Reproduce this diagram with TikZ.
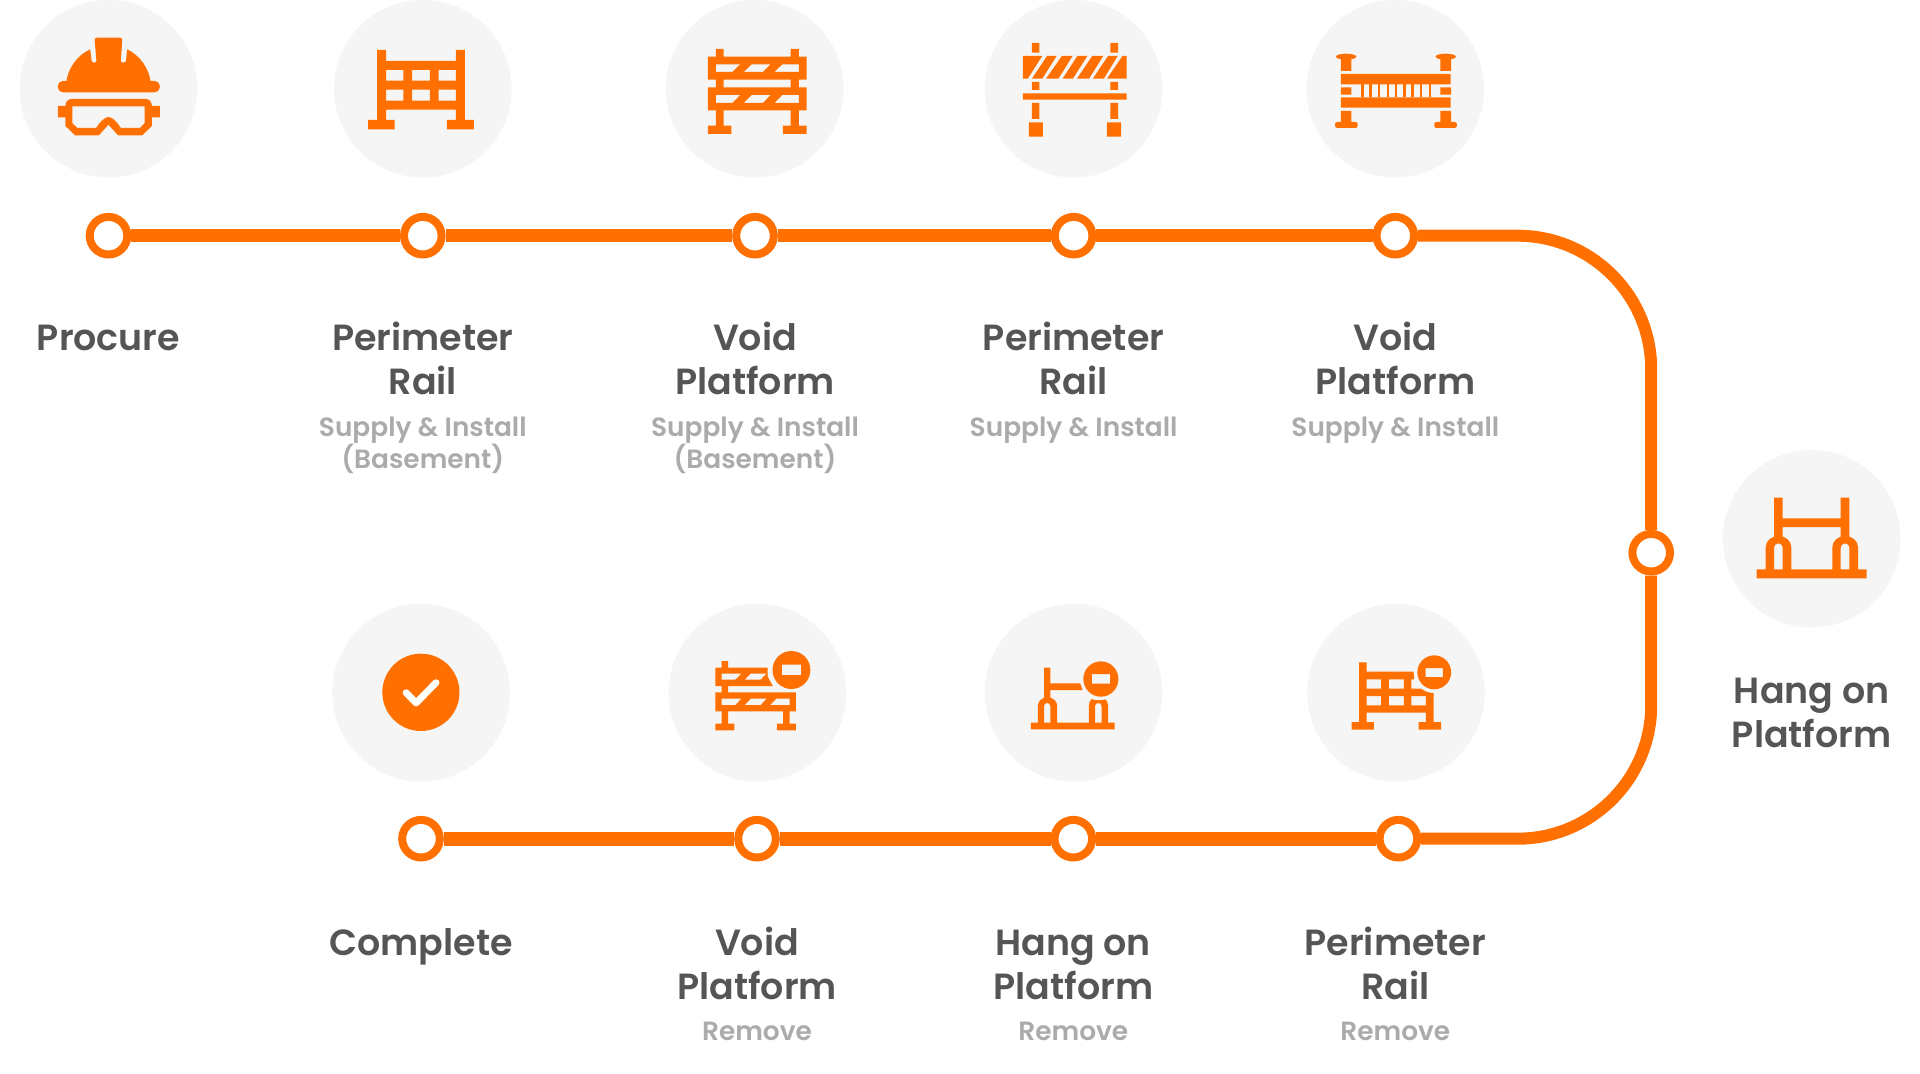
\documentclass[tikz,border=0pt]{standalone}
\usepackage{fontspec}
\usetikzlibrary{calc}
\setmainfont{Poppins}
\newfontfamily\ptitle{Poppins SemiBold}
\newfontfamily\psub{Poppins SemiBold}
\definecolor{org}{HTML}{FF7000}
\definecolor{disc}{HTML}{F5F5F5}
\definecolor{ink}{HTML}{555555}
\definecolor{soft}{HTML}{ABABAB}
\lineskiplimit=-20pt
\newcommand{\firstT}{\rule{0pt}{16pt}}
\newcommand{\firstS}{\rule{0pt}{12pt}}
\newcommand{\link}[2]{\path[track,line width=6.8pt] (#1) -- (#2);}
\tikzset{
  disc/.style={circle,fill=disc,minimum size=88.8pt,inner sep=0pt},
  stop/.style={circle,draw=org,fill=white,line width=4pt,minimum size=18.8pt,inner sep=0pt},
  track/.style={draw=org,line width=6pt},
  ttl/.style={anchor=north,inner sep=0pt,align=center,text=ink,yshift=16pt,font=\ptitle\fontsize{18.2}{22}\selectfont},
  subt/.style={anchor=north,inner sep=0pt,align=center,text=soft,yshift=12pt,font=\psub\fontsize{13.2}{15.6}\selectfont},
  zv/.style n args={3}{xshift=#1*0.5pt,yshift=-#2*0.5pt,x=#3,y=-0.166667pt},
  ic/.style={fill=org,even odd rule},
}
\begin{document}
\begin{tikzpicture}[x=0.5pt,y=-0.5pt]
\useasboundingbox (0,0) rectangle (1920,1074);
\fill[white] (0,0) rectangle (1920,1074);
% discs
\foreach \n/\x/\y in {i1/108.5/88.7,i2/422.8/88.7,i3/754.7/88.7,i4/1073.6/88.7,i5/1395.3/88.7,i6/1811.7/538.7,i7/421.2/692.7,i8/757.4/692.7,i9/1073.5/692.7,i10/1396/692.7}
  \node[disc] (\n) at (\x,\y) {};
% stations
\node[stop] (s1) at (108.5,235.7) {};
\node[stop] (s2) at (422.8,235.7) {};
\node[stop] (s3) at (755,235.7) {};
\node[stop] (s4) at (1073.6,235.7) {};
\node[stop] (s5) at (1395.3,235.7) {};
\node[stop] (s6) at (1651.2,552.7) {};
\node[stop] (s7) at (1398.4,838.7) {};
\node[stop] (s8) at (1073.3,838.7) {};
\node[stop] (s9) at (757,838.7) {};
\node[stop] (s10) at (421,838.7) {};
\coordinate (c1) at (1517.5,235.7);
\coordinate (c2) at (1651.2,705);
% track
\link{s1}{s2}
\link{s2}{s3}
\link{s3}{s4}
\link{s4}{s5}
\path[track] (s5) -- (c1) arc[start angle=90,end angle=0,radius=66.85pt] -- (s6);
\path[track] (s6) -- (c2) arc[start angle=0,end angle=-90,radius=66.85pt] -- (s7);
\link{s7}{s8}
\link{s8}{s9}
\link{s9}{s10}
% icon 1 helmet and goggles
\begin{scope}[zv={0}{0}{0.17218pt}]
\fill[org,rounded corners=2.5pt] (168,243) rectangle (464,277);
\fill[org] (192,250) .. controls (196,205) and (225,165) .. (262,148) -- (266,182) .. controls (267,190) and (280,190) .. (280,182)
  -- (275,120) .. controls (275,115) and (278,113) .. (282,113) -- (348,113) .. controls (352,113) and (355,115) .. (355,120)
  -- (351,182) .. controls (351,190) and (365,190) .. (366,182) -- (369,148) .. controls (405,165) and (434,205) .. (438,250) -- cycle;
\fill[ic] (168,318) -- (190,318) .. controls (190,305) and (197,297) .. (208,297) -- (423,297) .. controls (434,297) and (441,305) .. (441,318) -- (464,318) -- (464,352) -- (441,352) -- (441,378) -- (413,406) -- (343,406) -- (315,374) -- (287,406) -- (218,406) -- (190,378) -- (190,352) -- (168,352) -- cycle
 (210,319) -- (420,319) -- (420,370) -- (406,384) -- (351,384) .. controls (340,365) and (325,351) .. (315,351) .. controls (305,351) and (290,365) .. (279,384) -- (225,384) -- (210,370) -- cycle;
\end{scope}
% icon 2 perimeter rail
\begin{scope}[zv={0}{0}{0.17218pt}]
\fill[ic] (1095,150) -- (1121,150) -- (1121,183) -- (1324,183) -- (1324,150) -- (1350,150) -- (1350,360) -- (1376,360) -- (1376,388) -- (1298,388) -- (1298,360) -- (1324,360) -- (1324,329) -- (1121,329) -- (1121,360) -- (1146,360) -- (1146,388) -- (1069,388) -- (1069,360) -- (1095,360) -- cycle
 (1121,210) rectangle (1171,242) (1197,210) rectangle (1248,242) (1274,210) rectangle (1324,242)
 (1121,269) rectangle (1171,302) (1197,269) rectangle (1248,302) (1274,269) rectangle (1324,302);
\end{scope}
% icon 3 void platform
\begin{scope}[zv={650}{0}{0.17218pt}]
\fill[ic] (191,147) -- (214,147) -- (214,170) -- (408,170) -- (408,147) -- (432,147) -- (432,170) -- (455,170) -- (455,239) -- (432,239) -- (432,262) -- (455,262) -- (455,331) -- (432,331) -- (432,377) -- (455,377) -- (455,402) -- (386,402) -- (386,377) -- (408,377) -- (408,331) -- (214,331) -- (214,377) -- (236,377) -- (236,402) -- (168,402) -- (168,377) -- (191,377) -- (191,331) -- (168,331) -- (168,262) -- (191,262) -- (191,239) -- (168,239) -- (168,170) -- (191,170) -- cycle
 (214,239) rectangle (408,262)
 (191,193) -- (262,193) -- (239,216) -- (191,216) -- cycle
 (295,193) -- (350,193) -- (328,216) -- (272,216) -- cycle
 (384,193) -- (432,193) -- (432,216) -- (361,216) -- cycle
 (191,285) -- (262,285) -- (239,309) -- (191,309) -- cycle
 (295,285) -- (350,285) -- (328,309) -- (272,309) -- cycle
 (384,285) -- (432,285) -- (432,309) -- (361,309) -- cycle;
\end{scope}
% icon 4 striped barrier
\begin{scope}[zv={650}{0}{0.17218pt}]
\fill[org] (1109,129) rectangle (1131,158) (1337,129) rectangle (1359,158)
 (1109,246) rectangle (1131,270) (1337,246) rectangle (1359,270)
 (1083,280) rectangle (1384,299)
 (1109,309) rectangle (1131,357) (1337,309) rectangle (1359,357)
 (1100,367) rectangle (1141,410) (1327,367) rectangle (1368,410);
\fill[org] (1083,168) -- (1139,168) -- (1097,236) -- (1083,236) -- cycle
 (1153,168) -- (1181,168) -- (1139,236) -- (1109,236) -- cycle
 (1196,168) -- (1227,168) -- (1186,236) -- (1150,236) -- cycle
 (1241,168) -- (1270,168) -- (1228,236) -- (1198,236) -- cycle
 (1284,168) -- (1316,168) -- (1275,236) -- (1240,236) -- cycle
 (1330,168) -- (1358,168) -- (1318,236) -- (1286,236) -- cycle
 (1372,168) -- (1384,168) -- (1384,236) -- (1327,236) -- cycle;
\end{scope}
% icon 5 platform with mesh
\begin{scope}[zv={1280}{0}{0.20408pt}]
\fill[org] (162,170) ellipse [x radius=25,y radius=9];
\fill[org] (406,170) ellipse [x radius=25,y radius=9];
\fill[org] (149,172) rectangle (175,213) (393,172) rectangle (419,213)
 (149,222) rectangle (418,253) (149,292) rectangle (418,323)
 (149,262) rectangle (175,284) (393,262) rectangle (419,284)
 (149,333) rectangle (175,370) (393,333) rectangle (419,370);
\fill[org,rounded corners=1pt] (135,366) rectangle (190,384) (378,366) rectangle (433,384);
\foreach \a/\b in {198/205,219/225,240/246,261/266,281/287,302/308,322/328,343/349,364/370}
  \fill[org] (\a,253) rectangle (\b,292);
\end{scope}
% icon 6 hang on platform
\begin{scope}[zv={1600}{430}{0.166667pt}]
\fill[org] (522,203) rectangle (548,325) (722,203) rectangle (748,325)
 (548,265) rectangle (722,291) (470,418) rectangle (800,445);
\foreach \d in {0,200}
 \fill[org] (497+\d,420) -- (497+\d,352) .. controls (497+\d,332) and (515+\d,318) .. (535+\d,318) .. controls (556+\d,318) and (574+\d,332) .. (574+\d,352) -- (574+\d,420) -- (548+\d,420) -- (548+\d,355) .. controls (548+\d,335) and (522+\d,335) .. (522+\d,355) -- (522+\d,420) -- cycle;
\end{scope}
% icon 7 check
\begin{scope}[zv={320}{600}{0.17218pt}]
\fill[org] (293,277) ellipse [x radius=112,y radius=116];
\draw[white,line width=3.4pt,line cap=round,line join=round] (250,278) -- (279,309) -- (337,248);
\end{scope}
% icon 8 void platform remove
\begin{scope}[zv={320}{600}{0.17218pt}]
\fill[ic] (1166,183) -- (1185,183) -- (1185,203) -- (1300,203) -- (1300,230) -- (1315,258) -- (1185,258) -- (1185,277) -- (1382,277) -- (1382,334) -- (1364,334) -- (1364,371) -- (1382,371) -- (1382,391) -- (1327,391) -- (1327,371) -- (1345,371) -- (1345,334) -- (1185,334) -- (1185,371) -- (1203,371) -- (1203,391) -- (1148,391) -- (1148,371) -- (1166,371) -- (1166,334) -- (1148,334) -- (1148,277) -- (1166,277) -- (1166,258) -- (1148,258) -- (1148,203) -- (1166,203) -- cycle
 (1166,221) -- (1224,221) -- (1206,239) -- (1166,239) -- cycle
 (1251,221) -- (1296,221) -- (1280,239) -- (1233,239) -- cycle
 (1166,296) -- (1224,296) -- (1206,315) -- (1166,315) -- cycle
 (1251,296) -- (1297,296) -- (1280,315) -- (1233,315) -- cycle
 (1325,296) -- (1364,296) -- (1364,315) -- (1307,315) -- cycle;
\fill[disc] (1369,210) ellipse [x radius=60,y radius=62];
\fill[ic] (1369,210) ellipse [x radius=55,y radius=57] (1341,194) rectangle (1397,225);
\end{scope}
% icon 9 hang on platform remove
\begin{scope}[zv={970}{600}{0.17218pt}]
\fill[org] (215,203) rectangle (233,295) (233,250) -- (320,250) -- (327,270) -- (233,270) -- cycle (177,368) rectangle (420,388);
\fill[org] (197,370) -- (197,318) .. controls (197,305) and (205,295) .. (225,290) .. controls (245,295) and (253,305) .. (253,318) -- (253,370) -- (233,370) -- (233,318) .. controls (233,306) and (215,306) .. (215,318) -- (215,370) -- cycle;
\fill[org] (345,370) -- (345,318) .. controls (345,310) and (348,302) .. (353,297) .. controls (365,302) and (382,302) .. (393,298) .. controls (398,302) and (401,310) .. (401,318) -- (401,370) -- (382,370) -- (382,318) .. controls (382,306) and (363,306) .. (363,318) -- (363,370) -- cycle;
\fill[ic] (380,237) ellipse [x radius=51,y radius=53] (354,222) rectangle (407,251);
\end{scope}
% icon 10 perimeter rail remove
\begin{scope}[zv={970}{600}{0.17218pt}]
\fill[ic] (1130,187) -- (1152,187) -- (1152,215) -- (1288,215) -- (1290,238) -- (1282,238) -- (1282,266) -- (1310,266) .. controls (1320,274) and (1333,279) .. (1346,279) -- (1346,366) -- (1368,366) -- (1368,389) -- (1303,389) -- (1303,366) -- (1324,366) -- (1324,338) -- (1152,338) -- (1152,366) -- (1173,366) -- (1173,389) -- (1108,389) -- (1108,366) -- (1130,366) -- cycle
 (1152,238) rectangle (1194,266) (1216,238) rectangle (1260,266)
 (1152,288) rectangle (1194,316) (1216,288) rectangle (1260,316) (1282,288) rectangle (1324,316);
\fill[ic] (1348,217) ellipse [x radius=49,y radius=51] (1323,204) rectangle (1373,231);
\end{scope}
% labels
\node[ttl] (t1) at (108.5,350.6) {\firstT Procure};
\node[ttl] (t2) at (422.8,350.6) {\firstT Perimeter\\Rail};
\node[subt] (u2) at (422.8,436.5) {\firstS Supply \& Install\\(Basement)};
\node[ttl] (t3) at (755,350.6) {\firstT Void\\Platform};
\node[subt] (u3) at (755,436.5) {\firstS Supply \& Install\\(Basement)};
\node[ttl] (t4) at (1073.6,350.6) {\firstT Perimeter\\Rail};
\node[subt] (u4) at (1073.6,436.5) {\firstS Supply \& Install};
\node[ttl] (t5) at (1395.3,350.6) {\firstT Void\\Platform};
\node[subt] (u5) at (1395.3,436.5) {\firstS Supply \& Install};
\node[ttl] (t6) at (1811.7,702.6) {\firstT Hang on\\Platform};
\node[ttl] (t7) at (421,954.6) {\firstT Complete};
\node[ttl] (t8) at (757,954.6) {\firstT Void\\Platform};
\node[subt] (u8) at (757,1040) {\firstS Remove};
\node[ttl] (t9) at (1073.3,954.6) {\firstT Hang on\\Platform};
\node[subt] (u9) at (1073.3,1040) {\firstS Remove};
\node[ttl] (t10) at (1395.3,954.6) {\firstT Perimeter\\Rail};
\node[subt] (u10) at (1395.3,1040) {\firstS Remove};
\end{tikzpicture}
\end{document}
